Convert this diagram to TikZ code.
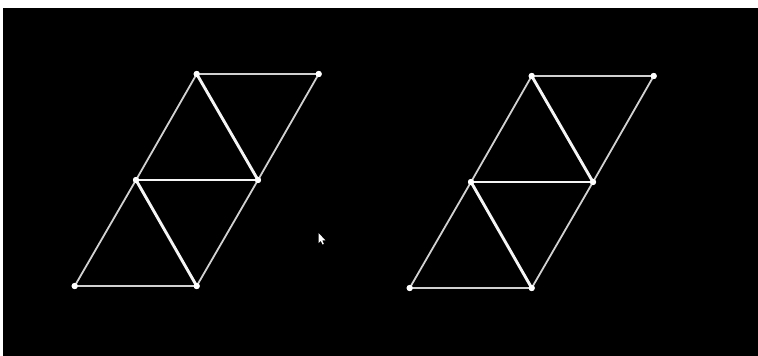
\documentclass[tikz,border=0pt]{standalone}
\begin{document}
\begin{tikzpicture}[x=1pt,y=-1pt,
  thinedge/.style={draw=white!82!black,line width=1.8pt},
  thickedge/.style={draw=white!96!black,line width=2.9pt},
  vtx/.style={circle,fill=white,inner sep=0pt,minimum size=6pt}]
\useasboundingbox (0,0) rectangle (758,356);
\fill[white] (0,0) rectangle (758,356);
\fill[black] (3,8) rectangle (758,356);
% left figure
\node[vtx] (la) at (196.7,74) {};
\node[vtx] (lb) at (318.7,74) {};
\node[vtx] (lc) at (136,180) {};
\node[vtx] (ld) at (258,180) {};
\node[vtx] (le) at (74.7,286) {};
\node[vtx] (lf) at (196.7,286) {};
\draw[thinedge] (la.center) -- (lb.center);
\draw[thinedge] (la.center) -- (lc.center);
\draw[thinedge] (lb.center) -- (ld.center);
\draw[thinedge] (lc.center) -- (le.center);
\draw[thinedge] (ld.center) -- (lf.center);
\draw[thinedge] (le.center) -- (lf.center);
\draw[thickedge] (la.center) -- (ld.center);
\draw[thickedge] (lc.center) -- (ld.center);
\draw[thickedge] (lc.center) -- (lf.center);
% right figure
\node[vtx] (ra) at (531.7,76) {};
\node[vtx] (rb) at (653.7,76) {};
\node[vtx] (rc) at (471,182) {};
\node[vtx] (rd) at (593,182) {};
\node[vtx] (re) at (409.7,288) {};
\node[vtx] (rf) at (531.7,288) {};
\draw[thinedge] (ra.center) -- (rb.center);
\draw[thinedge] (ra.center) -- (rc.center);
\draw[thinedge] (rb.center) -- (rd.center);
\draw[thinedge] (rc.center) -- (re.center);
\draw[thinedge] (rd.center) -- (rf.center);
\draw[thinedge] (re.center) -- (rf.center);
\draw[thickedge] (ra.center) -- (rd.center);
\draw[thickedge] (rc.center) -- (rd.center);
\draw[thickedge] (rc.center) -- (rf.center);
% redraw vertices on top
\foreach \n in {la,lb,lc,ld,le,lf,ra,rb,rc,rd,re,rf} \fill[white] (\n) circle (3.1pt);
% mouse cursor
\fill[white] (318.5,233) -- (318.5,243) -- (320.8,240.8) -- (322.5,244.5) -- (323.8,243.9) -- (322.2,240.3) -- (325.3,240.3) -- cycle;
\end{tikzpicture}
\end{document}
